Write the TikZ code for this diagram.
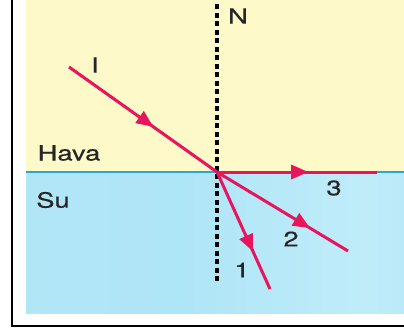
\documentclass[tikz,border=0pt]{standalone}
\usepackage{fontspec}
\setmainfont{TeX Gyre Heros}
\newfontfamily\widefont[FakeStretch=1.3,FakeBold=0.4]{TeX Gyre Heros}
\usetikzlibrary{arrows.meta,decorations.markings}
\definecolor{airyellow}{HTML}{FDF9C9}
\definecolor{waterblue}{HTML}{AEE5F7}
\definecolor{waterlight}{HTML}{D6F5FC}
\definecolor{interface}{HTML}{2AA5DC}
\definecolor{ray}{HTML}{E8145C}
\definecolor{labelgray}{HTML}{262626}
\pgfdeclarehorizontalshading{waterh}{100bp}{%
  color(0bp)=(waterlight); color(20bp)=(waterblue!90!waterlight);
  color(45bp)=(waterblue); color(70bp)=(waterblue!55!waterlight);
  color(85bp)=(waterblue); color(100bp)=(waterblue)}
\tikzset{
  lbl/.style={inner sep=0pt, text=labelgray, font=\widefont\fontsize{21}{21}\selectfont},
  raypath/.style={draw=ray, line width=3pt},
  midarrow/.style={postaction={decorate, decoration={markings,
      mark=at position #1 with {\arrow[ray]{Triangle[length=17pt,width=14pt]}}}}},
  normalline/.style={draw=black, line width=4pt, dash pattern=on 5pt off 3.5pt},
  framel/.style={draw=black, line width=2pt}
}
\begin{document}
\begin{tikzpicture}[x=1pt,y=-1pt]
\useasboundingbox (0,0) rectangle (404,327);
% background regions
\fill[white] (0,0) rectangle (404,327);
\fill[airyellow] (26,0) rectangle (404,172);
\shade[shading=waterh] (26,172) rectangle (404,313);
% frame (left and bottom visible)
\draw[framel] (12,0) -- (12,326) -- (404,326);
% interface
\coordinate (L) at (26,172);
\coordinate (R) at (404,172);
\draw[interface, line width=2.2pt] (L) -- (R);
% points
\coordinate (O) at (217,172);
\coordinate (Ntop) at (217,4);
\coordinate (Nbot) at (217,284);
\coordinate (I0) at (69,67);
\coordinate (E3) at (377,172);
\coordinate (E2) at (348,251);
\coordinate (E1) at (270,289);
% normal
\draw[normalline] (Ntop) -- (Nbot);
% rays
\draw[raypath, midarrow=0.57] (I0) -- (O);
\draw[raypath, midarrow=0.57] (O) -- (E3);
\draw[raypath, midarrow=0.71] (O) -- (E2);
\draw[raypath, midarrow=0.68] (O) -- (E1);
% labels
\node[lbl] (nN) at (238,16) {N};
\node[lbl] (nI) at (95,65) {I};
\node[lbl] (nHava) at (69,153) {Hava};
\node[lbl] (nSu) at (53,200) {Su};
\node[lbl] (n3) at (334,188) {3};
\node[lbl] (n2) at (291,239) {2};
\node[lbl] (n1) at (242,270) {1};
\end{tikzpicture}
\end{document}
